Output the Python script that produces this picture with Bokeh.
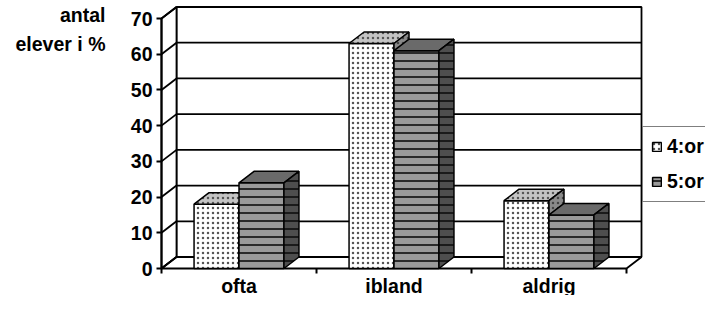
from bokeh.plotting import figure
from bokeh.models import Range1d, FixedTicker, Legend, LegendItem, LinearAxis
from bokeh.core.properties import value
from bokeh.embed import file_html
from bokeh.resources import INLINE

# ---- data ----
CATEGORIES = ["ofta", "ibland", "aldrig"]
SERIES = ["4:or", "5:or"]
VALUES_4 = [18, 63, 19]
VALUES_5 = [24, 61, 15]
Y_TICKS = [0, 10, 20, 30, 40, 50, 60, 70]
Y_TITLE = "antal\nelever i %"

# ---- styles ----
FONT = "Liberation Sans"
FS = "19.5px"
DX = 0.0968      # depth offset (x, data units)
DY = 3.22        # depth offset (y, data units)
BAR_W = 0.29
LW = 1.8
TITLE_POS = 66.9

p = figure(width=705, height=295, output_backend="svg", toolbar_location=None,
           x_range=Range1d(-0.0323, 3.5097), y_range=Range1d(-7.56, 75.04),
           x_axis_location=None, y_axis_location="left",
           min_border_left=156, min_border_right=0, min_border_top=0, min_border_bottom=0,
           outline_line_color=None, background_fill_color="white", border_fill_color="white")
p.grid.visible = False

ax = p.yaxis[0]
ax.ticker = FixedTicker(ticks=Y_TICKS)
ax.axis_line_color = None
ax.major_tick_line_color = "black"
ax.major_tick_line_width = 2
ax.major_tick_in = 5
ax.major_tick_out = 0
ax.minor_tick_line_color = None
ax.major_label_standoff = 4
ax.major_label_text_font = FONT
ax.major_label_text_font_style = "bold"
ax.major_label_text_font_size = FS
ax.major_label_text_color = "black"

# title of value axis, as a second (label-only) left axis
tax = LinearAxis(ticker=FixedTicker(ticks=[TITLE_POS]),
                 major_label_overrides={TITLE_POS: Y_TITLE},
                 axis_line_color=None, major_tick_line_color=None, minor_tick_line_color=None,
                 major_tick_in=0, major_tick_out=0, major_label_standoff=22,
                 major_label_text_font=FONT, major_label_text_font_style="bold",
                 major_label_text_font_size=FS, major_label_text_color="black",
                 major_label_text_align="center", major_label_text_line_height=1.28)
p.add_layout(tax, "left")

n = len(CATEGORIES)
ymax = Y_TICKS[-1]

# walls and floor
p.patch([DX, n + DX, n + DX, DX], [DY, DY, ymax + DY, ymax + DY],
        fill_color="white", line_color="black", line_width=LW)
p.patch([0, DX, DX, 0], [0, DY, ymax + DY, ymax],
        fill_color="white", line_color="black", line_width=LW)
p.patch([0, n, n + DX, DX], [0, 0, DY, DY],
        fill_color="white", line_color="black", line_width=LW)

# gridlines on back wall and side wall
inner = Y_TICKS[1:-1]
p.segment(x0=[DX] * len(inner), y0=[t + DY for t in inner],
          x1=[n + DX] * len(inner), y1=[t + DY for t in inner],
          line_color="black", line_width=LW)
p.segment(x0=[0] * len(Y_TICKS), y0=Y_TICKS, x1=[DX] * len(Y_TICKS),
          y1=[t + DY for t in Y_TICKS], line_color="black", line_width=LW)
# front value axis
p.segment(x0=[0], y0=[0], x1=[0], y1=[ymax], line_color="black", line_width=2)
# category ticks
edges = list(range(n + 1))
p.segment(x0=edges, y0=[0] * len(edges), x1=edges, y1=[-1.4] * len(edges),
          line_color="black", line_width=2)


def bars(vals, offset, front, top, side):
    L = [i + 0.5 + offset for i in range(n)]
    R = [l + BAR_W for l in L]
    fr = p.quad(left=L, right=R, bottom=[0] * n, top=vals, line_color="black",
                line_width=1.5, **front)
    p.patches(xs=[[l, r, r + DX, l + DX] for l, r in zip(L, R)],
              ys=[[v, v, v + DY, v + DY] for v in vals],
              line_color="black", line_width=1.5, **top)
    p.patches(xs=[[r, r + DX, r + DX, r] for r in R],
              ys=[[0, DY, v + DY, v] for v in vals],
              line_color="black", line_width=1.5, **side)
    return fr


f4 = bars(VALUES_4, -BAR_W,
          dict(fill_color="white", hatch_pattern="dot", hatch_color="#555555", hatch_scale=5, hatch_weight=1.3),
          dict(fill_color="#c4c4c4", hatch_pattern="dot", hatch_color="#555555", hatch_scale=5, hatch_weight=1.3),
          dict(fill_color="#8a8a8a", hatch_pattern="dot", hatch_color="#444444", hatch_scale=5, hatch_weight=1.3))
f5 = bars(VALUES_5, 0,
          dict(fill_color="#9a9a9a", hatch_pattern="horizontal_line", hatch_color="#2a2a2a", hatch_scale=8, hatch_weight=2),
          dict(fill_color="#6a6a6a"),
          dict(fill_color="#4e4e4e", hatch_pattern="horizontal_line", hatch_color="#1a1a1a", hatch_scale=8, hatch_weight=2))

# category labels
p.text(x=[i + 0.5 for i in range(n)], y=[-4.76] * n, text=CATEGORIES,
       text_font=value(FONT), text_font_style="bold", text_font_size=FS,
       text_align="center", text_baseline="middle", text_color="black")

legend = Legend(items=[LegendItem(label=SERIES[0], renderers=[f4]),
                       LegendItem(label=SERIES[1], renderers=[f5])],
                location=(486, 93), border_line_color="black", border_line_width=1.5,
                background_fill_color="white", background_fill_alpha=1,
                padding=8, spacing=12, margin=0, glyph_width=11, glyph_height=11,
                label_standoff=5, label_height=23,
                label_text_font=FONT, label_text_font_style="bold",
                label_text_font_size=FS, label_text_color="black")
p.add_layout(legend)

open("out.html", "w").write(file_html(p, INLINE))
